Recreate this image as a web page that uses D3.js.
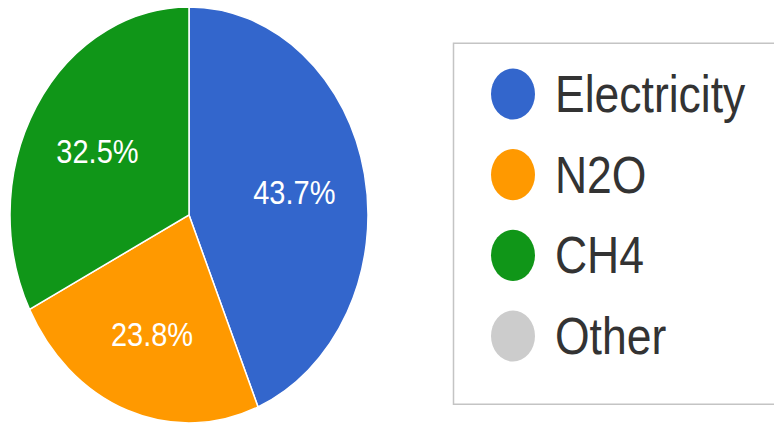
<!DOCTYPE html>
<html>
<head>
<meta charset="utf-8">
<script src="https://cdn.jsdelivr.net/npm/d3@7"></script>
<style>
  html, body { margin: 0; padding: 0; background: #fff; }
  svg { display: block; }
</style>
</head>
<body>
<div id="chart"></div>
<script>
const categories = ["Electricity", "N2O", "CH4", "Other"];
const values = [43.7, 23.8, 32.5, 0];
const colors = ["#3366cc", "#ff9900", "#109618", "#cccccc"];

const width = 774, height = 425;
// the source image is stretched vertically, so draw in a squashed space and scale y
const sy = 1.162;

const svg = d3.select("#chart").append("svg")
  .attr("width", width)
  .attr("height", height);

const g = svg.append("g").attr("transform", `scale(1, ${sy})`);

const cx = 189, cy = 185, r = 179;

const pie = d3.pie().sort(null).value((d) => d.value);
const arc = d3.arc().innerRadius(0).outerRadius(r);
const labelArc = d3.arc().innerRadius(r * 0.6).outerRadius(r * 0.6);

const rows = categories.map((c, i) => ({ name: c, value: values[i], color: colors[i] }));
const total = d3.sum(values);
const arcs = pie(rows).filter((d) => d.data.value > 0);

const pieG = g.append("g").attr("transform", `translate(${cx},${cy})`);

pieG.selectAll("path")
  .data(arcs)
  .join("path")
  .attr("d", arc)
  .attr("fill", (d) => d.data.color)
  .attr("stroke", "#fff")
  .attr("stroke-width", 1.5)
  .attr("vector-effect", "non-scaling-stroke");

pieG.selectAll("text")
  .data(arcs)
  .join("text")
  .attr("transform", (d) => `translate(${labelArc.centroid(d)})`)
  .attr("text-anchor", "middle")
  .attr("dy", "0.4em")
  .attr("font-family", "Liberation Sans, Arial, sans-serif")
  .attr("font-size", 29)
  .attr("fill", "#fff")
  .text((d) => (d.data.value / total * 100).toFixed(1) + "%");

// legend
const legend = g.append("g");
legend.append("rect")
  .attr("x", 453.5)
  .attr("y", 37.3)
  .attr("width", 340)
  .attr("height", 310.5)
  .attr("fill", "#fff")
  .attr("stroke", "#c4c4c4")
  .attr("stroke-width", 1.5)
  .attr("vector-effect", "non-scaling-stroke");

const y = d3.scalePoint()
  .domain(categories)
  .range([94 / sy, 336 / sy]);

const item = legend.selectAll("g.item")
  .data(rows)
  .join("g")
  .attr("class", "item")
  .attr("transform", (d) => `translate(513,${y(d.name)})`);

item.append("circle")
  .attr("r", 22)
  .attr("fill", (d) => d.color);

item.append("text")
  .attr("x", 42)
  .attr("dy", "0.35em")
  .attr("font-family", "Liberation Sans, Arial, sans-serif")
  .attr("font-size", 44.5)
  .attr("fill", "#333")
  .text((d) => d.name);
</script>
</body>
</html>
